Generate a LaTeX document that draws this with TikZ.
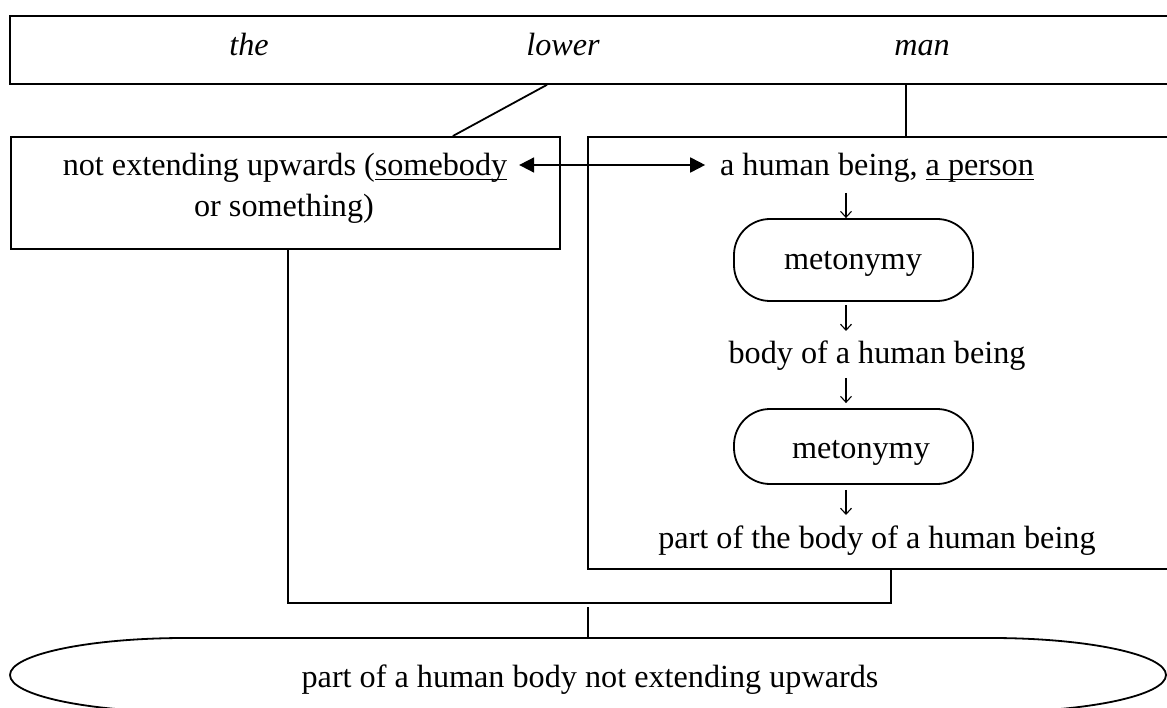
\documentclass[tikz,border=0pt]{standalone}
\usepackage{fontspec}
\setmainfont{Liberation Serif}
\usetikzlibrary{arrows.meta}
\newcommand{\myul}[1]{\setbox0\hbox{#1}\rlap{\rule[-4.5pt]{\wd0}{1.1pt}}\box0}
\begin{document}
\begin{tikzpicture}[x=1pt,y=-1pt,line width=1.8pt,
  txt/.style={font=\fontsize{32.2}{38}\selectfont, inner sep=0pt, anchor=base},
  wordit/.style={txt, font=\fontsize{32.2}{38}\selectfont\itshape},
  boxnode/.style={draw, inner sep=0pt, anchor=north west},
  stad/.style={draw, inner sep=0pt, minimum width=239pt, rounded corners=36pt},
  dn/.style={line width=1.1pt, -{Straight Barb[length=6pt,width=11pt]}},
  dbl/.style={line width=1.8pt, {Triangle[length=15pt,width=15pt]}-{Triangle[length=15pt,width=15pt]}}]
\useasboundingbox (0,0) rectangle (1167,708);

% top box with words
\node[boxnode, minimum width=1184pt, minimum height=68pt] (top) at (9,15) {};
\node[wordit] (the) at (249,56) {the};
\node[wordit] (lower) at (563,56) {lower};
\node[wordit] (man) at (922,56) {man};

% left box
\node[boxnode, minimum width=549pt, minimum height=112pt] (lbox) at (10,136) {};
\node[txt] (l1) at (285,176) {not extending upwards (\myul{somebody}};
\node[txt] (l2) at (284,217) {or something)};

% right box
\node[boxnode, minimum width=606pt, minimum height=432pt] (rbox) at (587,136) {};
\node[txt] (hb) at (877,176) {a human being, \myul{a person}};
\node[stad, minimum height=82pt] (m1) at (853.5,260) {};
\node[txt] (m1t) at (853,270) {metonymy};
\node[txt] (body) at (877,363) {body of a human being};
\node[stad, minimum height=75pt] (m2) at (853.5,446.5) {};
\node[txt] (m2t) at (861,458) {metonymy};
\node[txt] (part) at (877,548) {part of the body of a human being};

% connectors from top box
\draw ([xshift=-16pt]lower |- top.south) -- ([xshift=167.5pt]lbox.north);
\draw ([xshift=-16pt]man |- top.south) -- ([xshift=-16pt]man |- rbox.north);

% double arrow
\draw[dbl] ([xshift=11pt,yshift=11pt]l1.base east) -- ([xshift=-14pt,yshift=11pt]hb.base west);

% small down arrows
\draw[dn] ([xshift=-7.5pt,yshift=-17pt]hb.base -| m1.north) -- ([xshift=-7.5pt]m1.north);
\draw[dn] ([xshift=-7.5pt,yshift=-3pt]m1.south) -- ([xshift=-7.5pt,yshift=32pt]body.base -| m1.south);
\draw[dn] ([xshift=-7.5pt,yshift=-15pt]body.base -| m2.north) -- ([xshift=-7.5pt,yshift=5pt]m2.north);
\draw[dn] ([xshift=-7.5pt,yshift=-5pt]m2.south) -- ([xshift=-7.5pt,yshift=33pt]part.base -| m2.south);

% bottom joining lines
\coordinate (j) at (588,603);
\coordinate (elltop) at (588,638);
\draw ([xshift=2.5pt]lbox.south) |- (j) -| (rbox.south);
\draw ([yshift=-4pt]j) -- (elltop);

% bottom elongated ellipse
\draw (185,638) -- (991,638)
  arc[start angle=90, end angle=0, x radius=175pt, y radius=37pt]
  arc[start angle=0, end angle=-90, x radius=175pt, y radius=37pt]
  -- (185,712)
  arc[start angle=270, end angle=180, x radius=175pt, y radius=37pt]
  arc[start angle=180, end angle=90, x radius=175pt, y radius=37pt]
  -- cycle;
\node[txt] (bt) at (590,687) {part of a human body not extending upwards};
\end{tikzpicture}
\end{document}
